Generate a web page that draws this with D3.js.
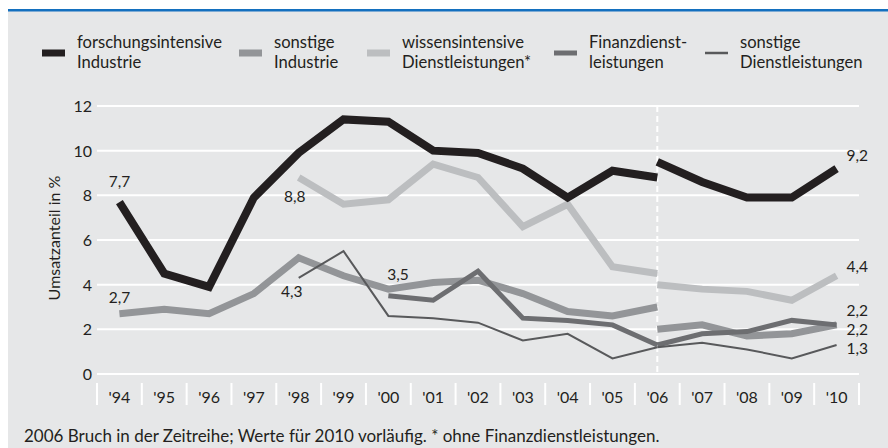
<!DOCTYPE html>
<html lang="de">
<head>
    <meta charset="UTF-8">
    <title>Umsatzanteil</title>
    <script src="https://d3js.org/d3.v7.min.js"></script>
    <style>
        body { margin: 0; background: #fff; }
        svg { display: block; }
        text { font-family: Lato, "Noto Sans", sans-serif; fill: #231f20; }
        .grid line { stroke: #fff; stroke-width: 2; }
        .sep { stroke: #fff; stroke-width: 2; }
        .series { fill: none; stroke-linejoin: miter; stroke-linecap: butt; }
    </style>
</head>
<body>
<script>
    const width = 888;
    const height = 448;

    // years on the x axis
    const years = ["'94","'95","'96","'97","'98","'99","'00","'01","'02","'03","'04","'05","'06","'07","'08","'09","'10"];
    const yTicks = [0, 2, 4, 6, 8, 10, 12];

    // values 1994..2006 (old series) and 2006..2010 (new series)
    const forschungOld = [7.7, 4.5, 3.9, 7.9, 9.9, 11.4, 11.3, 10.0, 9.9, 9.2, 7.9, 9.1, 8.8];
    const forschungNew = [9.5, 8.6, 7.9, 7.9, 9.2];
    const sonstIndOld = [2.7, 2.9, 2.7, 3.6, 5.2, 4.4, 3.8, 4.1, 4.2, 3.6, 2.8, 2.6, 3.0];
    const sonstIndNew = [2.0, 2.2, 1.7, 1.8, 2.2];
    const wissenOld = [null, null, null, null, 8.8, 7.6, 7.8, 9.4, 8.8, 6.6, 7.6, 4.8, 4.5];
    const wissenNew = [4.0, 3.8, 3.7, 3.3, 4.4];
    const finanzOld = [null, null, null, null, null, null, 3.5, 3.3, 4.6, 2.5, 2.4, 2.2, 1.3];
    const finanzNew = [1.3, 1.8, 1.9, 2.4, 2.2];
    const sonstDlOld = [null, null, null, null, 4.3, 5.5, 2.6, 2.5, 2.3, 1.5, 1.8, 0.7, 1.2];
    const sonstDlNew = [1.2, 1.4, 1.1, 0.7, 1.3];

    const legendNames = [
        ["forschungsintensive", "Industrie"],
        ["sonstige", "Industrie"],
        ["wissensintensive", "Dienstleistungen*"],
        ["Finanzdienst-", "leistungen"],
        ["sonstige", "Dienstleistungen"]
    ];

    const breakYear = "'06";
    const footnote = "2006 Bruch in der Zeitreihe; Werte für 2010 vorläufig. * ohne Finanzdienstleistungen.";

    // drawing order: black line last, on top
    const series = [
        {old: sonstIndOld, neu: sonstIndNew, color: "#939598", w: 7},
        {old: wissenOld, neu: wissenNew, color: "#bcbec0", w: 7},
        {old: finanzOld, neu: finanzNew, color: "#6d6e71", w: 5},
        {old: sonstDlOld, neu: sonstDlNew, color: "#58595b", w: 2},
        {old: forschungOld, neu: forschungNew, color: "#231f20", w: 8}
    ];
    const legendStyle = [
        {color: "#231f20", w: 7, x: 42},
        {color: "#939598", w: 7, x: 239},
        {color: "#bcbec0", w: 7, x: 367},
        {color: "#6d6e71", w: 5, x: 554},
        {color: "#58595b", w: 2.5, x: 705}
    ];

    const svg = d3.select("body").append("svg")
        .attr("width", width).attr("height", height);

    // background panel and blue rule
    svg.append("rect").attr("x", 8).attr("y", 10).attr("width", width - 8).attr("height", height - 10)
        .attr("fill", "#e6e7e8");
    svg.append("rect").attr("x", 8).attr("y", 9).attr("width", width - 8).attr("height", 2.5)
        .attr("fill", "#1470bf");

    const x = d3.scaleBand().domain(years).range([97, 859]);
    const y = d3.scaleLinear().domain([0, 12]).range([374, 106]);
    const cx = d => x(d) + x.bandwidth() / 2;

    // grid
    svg.append("g").attr("class", "grid")
        .selectAll("line").data(yTicks).enter().append("line")
        .attr("x1", 97).attr("x2", 859)
        .attr("y1", d => y(d)).attr("y2", d => y(d));

    // y tick labels
    svg.append("g").selectAll("text").data(yTicks).enter().append("text")
        .attr("x", 92).attr("y", d => y(d) + 6)
        .attr("text-anchor", "end").attr("font-size", 16)
        .text(d => d);

    svg.append("text")
        .attr("transform", "translate(60,238) rotate(-90)")
        .attr("text-anchor", "middle").attr("font-size", 16)
        .text("Umsatzanteil in %");

    // x separators and labels
    const seps = years.map(d => x(d)).concat([x.range()[1]]);
    svg.append("g").selectAll("line").data(seps).enter().append("line")
        .attr("class", "sep")
        .attr("x1", d => d).attr("x2", d => d)
        .attr("y1", 383).attr("y2", 405);
    svg.append("g").selectAll("text").data(years).enter().append("text")
        .attr("x", d => cx(d)).attr("y", 403)
        .attr("text-anchor", "middle").attr("font-size", 16)
        .text(d => d);

    // break marker
    svg.append("line")
        .attr("x1", cx(breakYear)).attr("x2", cx(breakYear))
        .attr("y1", y(12)).attr("y2", y(0))
        .attr("stroke", "#fff").attr("stroke-width", 2)
        .attr("stroke-dasharray", "6,4");

    const oldYears = years.slice(0, years.indexOf(breakYear) + 1);
    const newYears = years.slice(years.indexOf(breakYear));

    const line = d3.line()
        .defined(d => d.v !== null)
        .x(d => cx(d.year))
        .y(d => y(d.v));

    series.forEach(s => {
        const a = oldYears.map((yr, i) => ({year: yr, v: s.old[i]}));
        const b = newYears.map((yr, i) => ({year: yr, v: s.neu[i]}));
        [a, b].forEach(pts => {
            svg.append("path").attr("class", "series")
                .attr("d", line(pts))
                .attr("stroke", s.color).attr("stroke-width", s.w);
        });
    });

    // value labels
    const fmt = v => d3.format(".1f")(v).replace(".", ",");
    const labels = [
        {year: "'94", v: forschungOld[0], dx: 0, dy: -15, anchor: "middle"},
        {year: "'94", v: sonstIndOld[0], dx: 0, dy: -11, anchor: "middle"},
        {year: "'98", v: wissenOld[4], dx: -4, dy: 25, anchor: "middle"},
        {year: "'98", v: sonstDlOld[4], dx: -7, dy: 19, anchor: "middle"},
        {year: "'00", v: finanzOld[6], dx: -1, dy: -16, anchor: "start"},
        {year: "'10", v: forschungNew[4], dx: 10, dy: -8, anchor: "start"},
        {year: "'10", v: wissenNew[4], dx: 10, dy: -4, anchor: "start"},
        {year: "'10", v: finanzNew[4], dx: 10, dy: -9, anchor: "start"},
        {year: "'10", v: sonstIndNew[4], dx: 10, dy: 10, anchor: "start"},
        {year: "'10", v: sonstDlNew[4], dx: 10, dy: 9, anchor: "start"}
    ];
    svg.append("g").selectAll("text").data(labels).enter().append("text")
        .attr("x", d => cx(d.year) + d.dx).attr("y", d => y(d.v) + d.dy)
        .attr("text-anchor", d => d.anchor).attr("font-size", 15.5)
        .text(d => fmt(d.v));

    // legend
    const lg = svg.append("g").selectAll("g").data(legendNames).enter().append("g")
        .attr("transform", (d, i) => `translate(${legendStyle[i].x},0)`);
    lg.append("line")
        .attr("x1", 0).attr("x2", 23).attr("y1", 53).attr("y2", 53)
        .attr("stroke", (d, i) => legendStyle[i].color)
        .attr("stroke-width", (d, i) => legendStyle[i].w);
    lg.each(function(d) {
        const t = d3.select(this).append("text").attr("font-size", 16.6);
        t.append("tspan").attr("x", 35).attr("y", 48).text(d[0]);
        t.append("tspan").attr("x", 35).attr("y", 68).text(d[1]);
    });

    svg.append("text")
        .attr("x", 24).attr("y", 442)
        .attr("font-size", 17)
        .text(footnote);
</script>
</body>
</html>
